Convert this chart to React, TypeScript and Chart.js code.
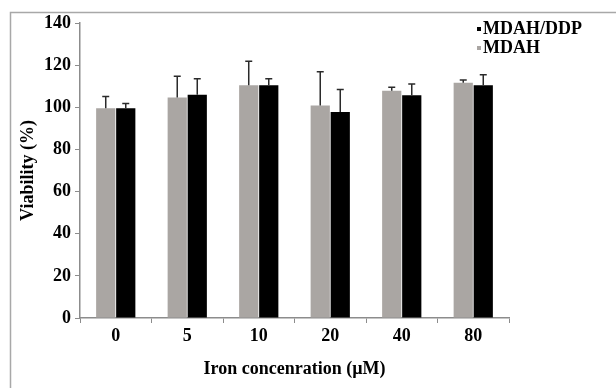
import React, { useEffect, useRef } from "react";
import { Chart, registerables } from "chart.js";

Chart.register(...registerables);

const categories = ["0", "5", "10", "20", "40", "80"];
const mdahValues = [99.6, 104.6, 110.5, 100.8, 107.9, 111.6];
const mdahErrors = [5.5, 10.1, 11.4, 16.1, 1.6, 1.4];
const mdahDdpValues = [99.6, 105.9, 110.5, 97.8, 105.7, 110.5];
const mdahDdpErrors = [2.2, 7.7, 3.1, 10.6, 5.4, 5.0];
const yTicks = [0, 20, 40, 60, 80, 100, 120, 140];

const GRAY = "#aaa6a3";
const BLACK = "#000000";
const FONT = "'Liberation Serif', 'Times New Roman', serif";

const errorBarPlugin = {
  id: "errorBars",
  afterDatasetsDraw(chart: any) {
    const ctx = chart.ctx;
    const yScale = chart.scales.y;
    chart.data.datasets.forEach((ds: any, di: number) => {
      const meta = chart.getDatasetMeta(di);
      const errs: number[] = ds.errors || [];
      meta.data.forEach((bar: any, i: number) => {
        const v = ds.data[i];
        const e = errs[i];
        if (e == null) return;
        const x = bar.x;
        const y0 = yScale.getPixelForValue(v);
        const y1 = yScale.getPixelForValue(v + e);
        ctx.save();
        ctx.strokeStyle = "#2a2a2a";
        ctx.lineWidth = 1.5;
        ctx.beginPath();
        ctx.moveTo(x, y0);
        ctx.lineTo(x, y1);
        ctx.moveTo(x - 3.5, y1);
        ctx.lineTo(x + 3.5, y1);
        ctx.stroke();
        ctx.restore();
      });
    });
  },
};

const framePlugin = {
  id: "frame",
  beforeDraw(chart: any) {
    const ctx = chart.ctx;
    ctx.save();
    ctx.fillStyle = "#ffffff";
    ctx.fillRect(0, 0, chart.width, chart.height);
    ctx.strokeStyle = "#a8a8a8";
    ctx.lineWidth = 1.5;
    ctx.beginPath();
    ctx.moveTo(10.5, chart.height);
    ctx.lineTo(10.5, 12.5);
    ctx.lineTo(chart.width, 12.5);
    ctx.stroke();
    ctx.restore();
  },
};

export default function App() {
  const canvasRef = useRef<HTMLCanvasElement | null>(null);

  useEffect(() => {
    document.body.style.margin = "0";
    const canvas = canvasRef.current;
    if (!canvas) return;
    const chart = new Chart(canvas, {
      type: "bar",
      data: {
        labels: categories,
        datasets: [
          {
            label: "MDAH",
            data: mdahValues,
            backgroundColor: GRAY,
            errors: mdahErrors,
          } as any,
          {
            label: "MDAH/DDP",
            data: mdahDdpValues,
            backgroundColor: BLACK,
            errors: mdahDdpErrors,
          } as any,
        ],
      },
      options: {
        animation: false,
        responsive: false,
        maintainAspectRatio: false,
        layout: { padding: { left: 10, right: 107, top: 23, bottom: 0 } },
        datasets: {
          bar: { categoryPercentage: 0.56, barPercentage: 0.96 },
        },
        plugins: {
          legend: { display: false },
          tooltip: { enabled: false },
        },
        scales: {
          x: {
            afterFit(scale: any) {
              scale.height = 70;
            },
            grid: {
              offset: true,
              drawOnChartArea: false,
              drawTicks: true,
              tickLength: 5,
              color: "#8c8c8c",
            },
            border: { color: "#8c8c8c", width: 1.5 },
            ticks: {
              color: "#000",
              padding: 3,
              font: { family: FONT, size: 18, weight: "bold" },
            },
            title: {
              display: true,
              text: "Iron concenration (µM)",
              color: "#000",
              font: { family: FONT, size: 18, weight: "bold" },
              padding: { top: 4, bottom: 8 },
            },
          },
          y: {
            min: 0,
            max: 140,
            afterFit(scale: any) {
              scale.width = 70;
            },
            afterBuildTicks(scale: any) {
              scale.ticks = yTicks.map((v) => ({ value: v }));
            },
            grid: {
              drawOnChartArea: false,
              drawTicks: true,
              tickLength: 5,
              color: "#8c8c8c",
            },
            border: { color: "#8c8c8c", width: 1.5 },
            ticks: {
              color: "#000",
              padding: 4,
              font: { family: FONT, size: 18, weight: "bold" },
            },
            title: {
              display: true,
              text: "Viability (%)",
              color: "#000",
              font: { family: FONT, size: 18, weight: "bold" },
              padding: { top: 8, bottom: 4 },
            },
          },
        },
      } as any,
      plugins: [framePlugin, errorBarPlugin],
    });
    return () => chart.destroy();
  }, []);

  const legendItems = [
    { label: "MDAH/DDP", color: BLACK },
    { label: "MDAH", color: GRAY },
  ];

  return (
    <div style={{ position: "relative", width: 616, height: 388, overflow: "hidden" }}>
      <canvas ref={canvasRef} width={616} height={388} style={{ display: "block" }} />
      <div
        style={{
          position: "absolute",
          left: 477,
          top: 19,
          fontFamily: FONT,
          fontWeight: "bold",
          fontSize: 18,
          lineHeight: "19px",
          color: "#000",
        }}
      >
        {legendItems.map((it) => (
          <div key={it.label} style={{ display: "flex", alignItems: "center", whiteSpace: "nowrap" }}>
            <span
              style={{
                display: "inline-block",
                width: 4,
                height: 4,
                background: it.color,
                marginRight: 2,
              }}
            />
            <span>{it.label}</span>
          </div>
        ))}
      </div>
    </div>
  );
}
